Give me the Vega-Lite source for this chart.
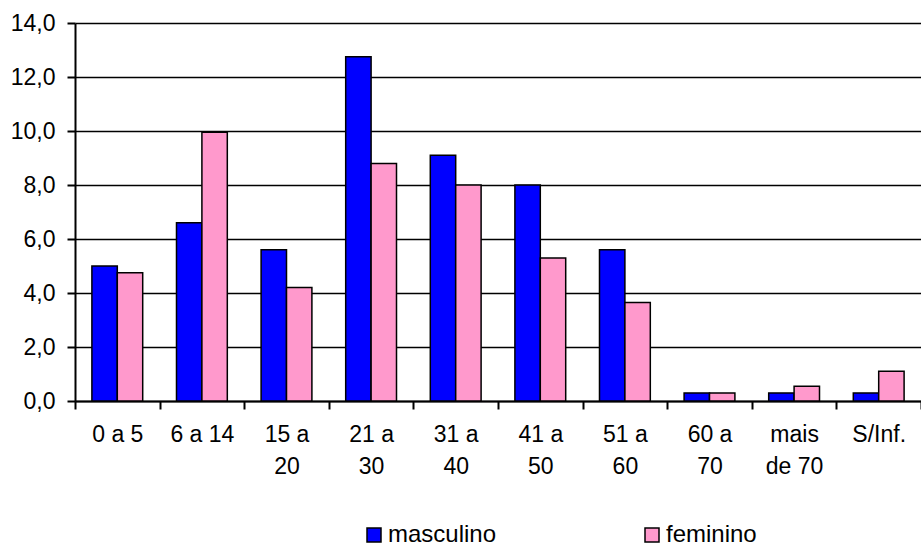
{
  "$schema": "https://vega.github.io/schema/vega-lite/v6.json",
  "width": 846,
  "height": 378,
  "autosize": "none",
  "padding": {"left": 75, "top": 23, "right": 0, "bottom": 142},
  "background": "white",
  "config": {
    "font": "Liberation Sans",
    "view": {"stroke": null},
    "axis": {"labelFont": "Liberation Sans", "labelColor": "black", "titleColor": "black"}
  },
  "data": {
    "values": [
      {"faixa": "0 a 5", "sexo": "masculino", "valor": 5.0},
      {"faixa": "0 a 5", "sexo": "feminino", "valor": 4.75},
      {"faixa": "6 a 14", "sexo": "masculino", "valor": 6.6},
      {"faixa": "6 a 14", "sexo": "feminino", "valor": 9.95},
      {"faixa": "15 a 20", "sexo": "masculino", "valor": 5.6},
      {"faixa": "15 a 20", "sexo": "feminino", "valor": 4.2},
      {"faixa": "21 a 30", "sexo": "masculino", "valor": 12.75},
      {"faixa": "21 a 30", "sexo": "feminino", "valor": 8.8},
      {"faixa": "31 a 40", "sexo": "masculino", "valor": 9.1},
      {"faixa": "31 a 40", "sexo": "feminino", "valor": 8.0},
      {"faixa": "41 a 50", "sexo": "masculino", "valor": 8.0},
      {"faixa": "41 a 50", "sexo": "feminino", "valor": 5.3},
      {"faixa": "51 a 60", "sexo": "masculino", "valor": 5.6},
      {"faixa": "51 a 60", "sexo": "feminino", "valor": 3.65},
      {"faixa": "60 a 70", "sexo": "masculino", "valor": 0.3},
      {"faixa": "60 a 70", "sexo": "feminino", "valor": 0.3},
      {"faixa": "mais de 70", "sexo": "masculino", "valor": 0.3},
      {"faixa": "mais de 70", "sexo": "feminino", "valor": 0.55},
      {"faixa": "S/Inf.", "sexo": "masculino", "valor": 0.3},
      {"faixa": "S/Inf.", "sexo": "feminino", "valor": 1.1}
    ]
  },
  "mark": {"type": "bar", "stroke": "black", "strokeWidth": 1.5},
  "encoding": {
    "x": {
      "field": "faixa",
      "type": "nominal",
      "sort": null,
      "scale": {"paddingInner": 0, "paddingOuter": 0},
      "axis": {
        "title": null,
        "labelAngle": 0,
        "labelFontSize": 23,
        "labelLineHeight": 32,
        "labelPadding": 14,
        "tickBand": "extent",
        "tickSize": 8,
        "tickColor": "black",
        "tickWidth": 2,
        "domainColor": "black",
        "domainWidth": 2,
        "labelExpr": "datum.label == '15 a 20' ? ['15 a', '20'] : datum.label == '21 a 30' ? ['21 a', '30'] : datum.label == '31 a 40' ? ['31 a', '40'] : datum.label == '41 a 50' ? ['41 a', '50'] : datum.label == '51 a 60' ? ['51 a', '60'] : datum.label == '60 a 70' ? ['60 a', '70'] : datum.label == 'mais de 70' ? ['mais', 'de 70'] : datum.label"
      }
    },
    "xOffset": {
      "field": "sexo",
      "sort": ["masculino", "feminino"],
      "scale": {"paddingInner": 0, "paddingOuter": 0.665}
    },
    "y": {
      "field": "valor",
      "type": "quantitative",
      "scale": {"domain": [0, 14], "nice": false},
      "axis": {
        "title": null,
        "values": [0, 2, 4, 6, 8, 10, 12, 14],
        "labelExpr": "replace(format(datum.value, '.1f'), '.', ',')",
        "labelFontSize": 23,
        "labelPadding": 12,
        "tickSize": 8,
        "tickColor": "black",
        "tickWidth": 2,
        "domainColor": "black",
        "domainWidth": 2,
        "grid": true,
        "gridColor": "black",
        "gridWidth": 1.3
      }
    },
    "color": {
      "field": "sexo",
      "type": "nominal",
      "sort": ["masculino", "feminino"],
      "scale": {"domain": ["masculino", "feminino"], "range": ["#0000FF", "#FF99CC"]},
      "legend": {
        "title": null,
        "orient": "none",
        "direction": "horizontal",
        "legendX": 287,
        "legendY": 500,
        "symbolType": "square",
        "symbolSize": 196,
        "symbolStrokeColor": "black",
        "symbolStrokeWidth": 1.5,
        "symbolOpacity": 1,
        "labelFontSize": 24,
        "labelColor": "black",
        "labelOffset": 2,
        "columnPadding": 143,
        "padding": 0
      }
    }
  }
}
